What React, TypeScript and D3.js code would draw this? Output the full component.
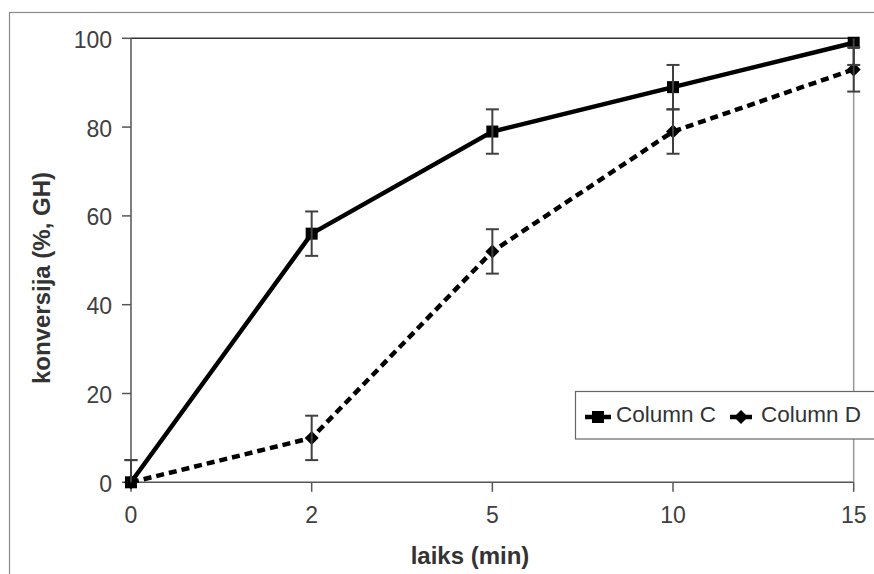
import React from "react";
import * as d3 from "d3";

const categories = ["0", "2", "5", "10", "15"];
const seriesC = [0, 56, 79, 89, 99];
const seriesD = [0, 10, 52, 79, 93];
const errorC = [5, 5, 5, 5, 5];
const errorD = [5, 5, 5, 5, 5];
const yTicks = [0, 20, 40, 60, 80, 100];
const seriesNames = ["Column C", "Column D"];

const W = 874;
const H = 574;
const left = 131;
const right = 853.7;
const top = 38.3;
const bottom = 482.3;
const FONT = "'Liberation Sans', Arial, sans-serif";

export default function App() {
  const x = d3.scalePoint<string>().domain(categories).range([left, right]).padding(0);
  const y = d3.scaleLinear().domain([0, 100]).range([bottom, top]);
  const line = d3
    .line<number>()
    .x((_, i) => x(categories[i]) as number)
    .y((d) => y(d));

  const clip = (v: number) => Math.max(0, Math.min(100, v));

  const errBars = (vals: number[], errs: number[], key: string) =>
    vals.map((v, i) => {
      const cx = x(categories[i]) as number;
      const hi = v + errs[i];
      const lo = v - errs[i];
      return (
        <g key={key + i} stroke="#404040" strokeWidth={2}>
          <line x1={cx} x2={cx} y1={y(clip(hi))} y2={y(clip(lo))} />
          {hi <= 100 && <line x1={cx - 6.5} x2={cx + 6.5} y1={y(hi)} y2={y(hi)} />}
          {lo >= 0 && <line x1={cx - 6.5} x2={cx + 6.5} y1={y(lo)} y2={y(lo)} />}
        </g>
      );
    });

  const diamond = (cx: number, cy: number, r: number) =>
    `M${cx},${cy - r}L${cx + r},${cy}L${cx},${cy + r}L${cx - r},${cy}Z`;

  return (
    <svg
      width={W}
      height={H}
      style={{ position: "absolute", left: 0, top: 0, background: "#fff" }}
      fontFamily={FONT}
    >
      <rect x={9.5} y={12.5} width={900} height={600} fill="#fff" stroke="#8a8a8a" strokeWidth={1.2} />

      {/* plot frame */}
      <line x1={left} x2={right} y1={top} y2={top} stroke="#333" strokeWidth={1.5} />
      <line x1={right} x2={right} y1={top} y2={bottom} stroke="#999" strokeWidth={1.5} />
      <line x1={left} x2={left} y1={top} y2={bottom} stroke="#555" strokeWidth={1.5} />
      <line x1={left} x2={right} y1={bottom} y2={bottom} stroke="#555" strokeWidth={1.5} />

      {/* y ticks */}
      {yTicks.map((t) => (
        <g key={"yt" + t}>
          <line x1={left - 9} x2={left} y1={y(t)} y2={y(t)} stroke="#555" strokeWidth={1.5} />
          <text x={112} y={y(t) + 9.5} textAnchor="end" fontSize={23} fill="#404040">
            {t}
          </text>
        </g>
      ))}

      {/* x ticks */}
      {categories.map((c) => (
        <g key={"xt" + c}>
          <line x1={x(c)} x2={x(c)} y1={bottom} y2={bottom + 9.5} stroke="#555" strokeWidth={1.5} />
          <text x={x(c)} y={523.3} textAnchor="middle" fontSize={23} fill="#404040">
            {c}
          </text>
        </g>
      ))}

      {/* series lines */}
      <path d={line(seriesC) || ""} fill="none" stroke="#000" strokeWidth={4.5} />
      <path d={line(seriesD) || ""} fill="none" stroke="#000" strokeWidth={4.5} strokeDasharray="8 5" />

      {/* markers */}
      {seriesC.map((v, i) => (
        <rect
          key={"mc" + i}
          x={(x(categories[i]) as number) - 6}
          y={y(v) - 6}
          width={12}
          height={12}
          fill="#000"
        />
      ))}
      {seriesD.map((v, i) => (
        <path key={"md" + i} d={diamond(x(categories[i]) as number, y(v), 7)} fill="#000" />
      ))}

      {/* error bars */}
      {errBars(seriesC, errorC, "ec")}
      {errBars(seriesD, errorD, "ed")}

      {/* axis titles */}
      <text x={470} y={564} textAnchor="middle" fontSize={24} fontWeight="bold" fill="#333">
        laiks (min)
      </text>
      <text
        transform={`translate(50,278) rotate(-90)`}
        textAnchor="middle"
        fontSize={24}
        fontWeight="bold"
        fill="#333"
      >
        konversija (%, GH)
      </text>

      {/* legend */}
      <rect x={575.5} y={391.5} width={320} height={47.5} fill="#fff" stroke="#666" strokeWidth={1.2} />
      <line x1={585} x2={611} y1={417} y2={417} stroke="#000" strokeWidth={4.5} />
      <rect x={592} y={411} width={12} height={12} fill="#000" />
      <text x={616} y={422.3} fontSize={22.5} fill="#333">
        {seriesNames[0]}
      </text>
      <line x1={730} x2={752} y1={417} y2={417} stroke="#000" strokeWidth={4.5} />
      <path d={diamond(741, 417, 7)} fill="#000" />
      <text x={761} y={422.3} fontSize={22.5} fill="#333">
        {seriesNames[1]}
      </text>
    </svg>
  );
}
